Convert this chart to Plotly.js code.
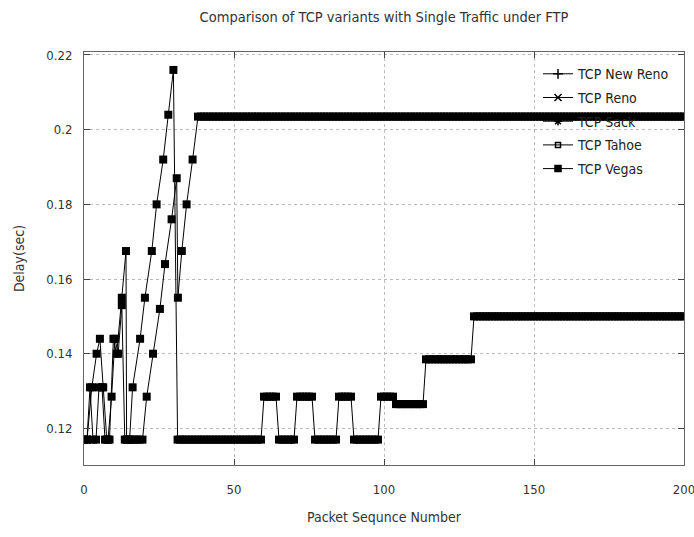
<!DOCTYPE html>
<html>
<head>
<meta charset="utf-8">
<script src="https://cdn.plot.ly/plotly-3.0.1.min.js"></script>
<style>html,body{margin:0;padding:0;background:#fff;}#chart{width:694px;height:537px;}</style>
</head>
<body>
<div id="chart"></div>
<script>
// ---- DATA ----
const legendNames = ["TCP New Reno", "TCP Reno", "TCP Sack", "TCP Tahoe", "TCP Vegas"];

// Series that peaks, falls back and ends on the 0.15 step
const seriesA_x = [0,1,2.6,4.2,5.3,6.4,7.6,8.5,9.8,10.9,12.6,14,14.2,15.2,16.2,18.7,20.3,22.6,24.2,26.4,28.1,29.8,31.2,
  32,33,34,35,36,37,38,39,40,41,42,43,44,45,46,47,48,49,50,51,
  52,53,54,55,56,57,58,59,60,61,62,63,64,65,66,67,68,69,70,71,
  72,73,74,75,76,77,78,79,80,81,82,83,84,85,86,87,88,89,90,91,
  92,93,94,95,96,97,98,99,100,101,102,103,104,105,106,107,108,109,110,111,
  112,113,114,115,116,117,118,119,120,121,122,123,124,125,126,127,128,129,130,131,
  132,133,134,135,136,137,138,139,140,141,142,143,144,145,146,147,148,149,150,151,
  152,153,154,155,156,157,158,159,160,161,162,163,164,165,166,167,168,169,170,171,
  172,173,174,175,176,177,178,179,180,181,182,183,184,185,186,187,188,189,190,191,
  192,193,194,195,196,197,198,199,200];
const seriesA_y = [0.117,0.117,0.131,0.140,0.144,0.131,0.117,0.117,0.144,0.140,0.155,0.1675,0.117,0.117,0.131,0.144,0.155,0.1675,0.180,0.192,0.204,0.216,0.117,
  0.117,0.117,0.117,0.117,0.117,0.117,0.117,0.117,0.117,0.117,0.117,0.117,0.117,0.117,0.117,0.117,0.117,0.117,0.117,0.117,
  0.117,0.117,0.117,0.117,0.117,0.117,0.117,0.117,0.1285,0.1285,0.1285,0.1285,0.1285,0.117,0.117,0.117,0.117,0.117,0.117,0.1285,
  0.1285,0.1285,0.1285,0.1285,0.1285,0.117,0.117,0.117,0.117,0.117,0.117,0.117,0.117,0.1285,0.1285,0.1285,0.1285,0.1285,0.117,0.117,
  0.117,0.117,0.117,0.117,0.117,0.117,0.117,0.1285,0.1285,0.1285,0.1285,0.1285,0.1265,0.1265,0.1265,0.1265,0.1265,0.1265,0.1265,0.1265,
  0.1265,0.1265,0.1385,0.1385,0.1385,0.1385,0.1385,0.1385,0.1385,0.1385,0.1385,0.1385,0.1385,0.1385,0.1385,0.1385,0.1385,0.1385,0.150,0.150,
  0.150,0.150,0.150,0.150,0.150,0.150,0.150,0.150,0.150,0.150,0.150,0.150,0.150,0.150,0.150,0.150,0.150,0.150,0.150,0.150,
  0.150,0.150,0.150,0.150,0.150,0.150,0.150,0.150,0.150,0.150,0.150,0.150,0.150,0.150,0.150,0.150,0.150,0.150,0.150,0.150,
  0.150,0.150,0.150,0.150,0.150,0.150,0.150,0.150,0.150,0.150,0.150,0.150,0.150,0.150,0.150,0.150,0.150,0.150,0.150,0.150,
  0.150,0.150,0.150,0.150,0.150,0.150,0.150,0.150,0.150];

// Series that climbs to the 0.2035 plateau
const seriesB_x = [0,1,2,3,4,5,6,7,8,9.2,10.3,11.4,12.6,13.6,14.5,15.5,16.5,17.5,18.5,19.5,20.9,23,25.3,27,29.2,30.9,31.3,32.6,34.2,36.2,38,
  39,40,41,42,43,44,45,46,47,48,49,50,51,52,53,54,55,56,57,58,
  59,60,61,62,63,64,65,66,67,68,69,70,71,72,73,74,75,76,77,78,
  79,80,81,82,83,84,85,86,87,88,89,90,91,92,93,94,95,96,97,98,
  99,100,101,102,103,104,105,106,107,108,109,110,111,112,113,114,115,116,117,118,
  119,120,121,122,123,124,125,126,127,128,129,130,131,132,133,134,135,136,137,138,
  139,140,141,142,143,144,145,146,147,148,149,150,151,152,153,154,155,156,157,158,
  159,160,161,162,163,164,165,166,167,168,169,170,171,172,173,174,175,176,177,178,
  179,180,181,182,183,184,185,186,187,188,189,190,191,192,193,194,195,196,197,198,
  199,200];
const seriesB_y = [0.117,0.117,0.131,0.117,0.117,0.131,0.131,0.117,0.117,0.1285,0.144,0.140,0.153,0.117,0.117,0.117,0.117,0.117,0.117,0.117,0.1285,0.140,0.152,0.164,0.176,0.187,0.155,0.1675,0.180,0.192,0.2035,
  0.2035,0.2035,0.2035,0.2035,0.2035,0.2035,0.2035,0.2035,0.2035,0.2035,0.2035,0.2035,0.2035,0.2035,0.2035,0.2035,0.2035,0.2035,0.2035,0.2035,
  0.2035,0.2035,0.2035,0.2035,0.2035,0.2035,0.2035,0.2035,0.2035,0.2035,0.2035,0.2035,0.2035,0.2035,0.2035,0.2035,0.2035,0.2035,0.2035,0.2035,
  0.2035,0.2035,0.2035,0.2035,0.2035,0.2035,0.2035,0.2035,0.2035,0.2035,0.2035,0.2035,0.2035,0.2035,0.2035,0.2035,0.2035,0.2035,0.2035,0.2035,
  0.2035,0.2035,0.2035,0.2035,0.2035,0.2035,0.2035,0.2035,0.2035,0.2035,0.2035,0.2035,0.2035,0.2035,0.2035,0.2035,0.2035,0.2035,0.2035,0.2035,
  0.2035,0.2035,0.2035,0.2035,0.2035,0.2035,0.2035,0.2035,0.2035,0.2035,0.2035,0.2035,0.2035,0.2035,0.2035,0.2035,0.2035,0.2035,0.2035,0.2035,
  0.2035,0.2035,0.2035,0.2035,0.2035,0.2035,0.2035,0.2035,0.2035,0.2035,0.2035,0.2035,0.2035,0.2035,0.2035,0.2035,0.2035,0.2035,0.2035,0.2035,
  0.2035,0.2035,0.2035,0.2035,0.2035,0.2035,0.2035,0.2035,0.2035,0.2035,0.2035,0.2035,0.2035,0.2035,0.2035,0.2035,0.2035,0.2035,0.2035,0.2035,
  0.2035,0.2035,0.2035,0.2035,0.2035,0.2035,0.2035,0.2035,0.2035,0.2035,0.2035,0.2035,0.2035,0.2035,0.2035,0.2035,0.2035,0.2035,0.2035,0.2035,
  0.2035,0.2035];

const xTickVals = [0, 50, 100, 150, 200];
const xTickText = ["0", "50", "100", "150", "200"];
const yTickVals = [0.12, 0.14, 0.16, 0.18, 0.20, 0.22];
const yTickText = ["0.12", "0.14", "0.16", "0.18", "0.2", "0.22"];

// ---- STYLE ----
const FONT = "DejaVu Sans Condensed, Liberation Sans Narrow, sans-serif";
const legendSymbols = ["cross-thin-open", "x-thin-open", "asterisk-open", "square-open", "square"];
const legendSizes = [7, 7, 7, 5, 6];

const traces = [];
legendNames.forEach((n, i) => {
  // legend-only entries: no plotted points
  traces.push({
    type: "scatter", mode: "lines+markers", name: n, x: [null], y: [null],
    legendgroup: "g" + i,
    line: {color: "#000", width: 1},
    marker: {symbol: legendSymbols[i], size: legendSizes[i], color: "#000", line: {color: "#000", width: 1.5}},
    hoverinfo: "skip"
  });
});
[[seriesA_x, seriesA_y], [seriesB_x, seriesB_y]].forEach(([xs, ys], k) => {
  traces.push({
    type: "scatter", mode: "lines+markers", x: xs, y: ys, showlegend: false,
    name: k === 0 ? "TCP Tahoe" : "TCP Vegas",
    line: {color: "#000", width: 1},
    marker: {symbol: "square", size: 8, color: "#000"}
  });
});

const axisCommon = {
  showline: true, linecolor: "#666", linewidth: 1, mirror: "allticks",
  ticks: "inside", ticklen: 6, tickcolor: "#444", tickwidth: 1,
  showgrid: true, gridcolor: "#bbb", griddash: "dot", gridwidth: 1,
  zeroline: false, ticklabeloverflow: "allow",
  tickfont: {family: FONT, size: 13, color: "#333"}
};

const layout = {
  width: 694, height: 537,
  margin: {l: 84, r: 10, t: 52, b: 72},
  paper_bgcolor: "#fff", plot_bgcolor: "#fff",
  font: {family: FONT, color: "#333"},
  title: {text: "Comparison of TCP variants with Single Traffic under FTP",
    font: {family: FONT, size: 14.5, color: "#333"},
    x: 0.5, xref: "paper", y: 0.968, yref: "container", yanchor: "middle"},
  xaxis: Object.assign({}, axisCommon, {
    range: [0, 200], tickmode: "array", tickvals: xTickVals, ticktext: xTickText,
    ticklabelstandoff: 12,
    title: {text: "Packet Sequnce Number", font: {family: FONT, size: 14, color: "#333"}, standoff: 16}
  }),
  yaxis: Object.assign({}, axisCommon, {
    range: [0.1102, 0.2208], tickmode: "array", tickvals: yTickVals, ticktext: yTickText,
    ticklabelstandoff: 8,
    title: {text: "Delay(sec)", font: {family: FONT, size: 14, color: "#333"}, standoff: 18}
  }),
  legend: {x: 0.985, xanchor: "right", y: 0.985, yanchor: "top",
    bgcolor: "rgba(0,0,0,0)", borderwidth: 0,
    font: {family: FONT, size: 14, color: "#222"}, tracegroupgap: 2.5},
  showlegend: true
};

Plotly.newPlot("chart", traces, layout, {displayModeBar: false, staticPlot: true});
</script>
</body>
</html>
